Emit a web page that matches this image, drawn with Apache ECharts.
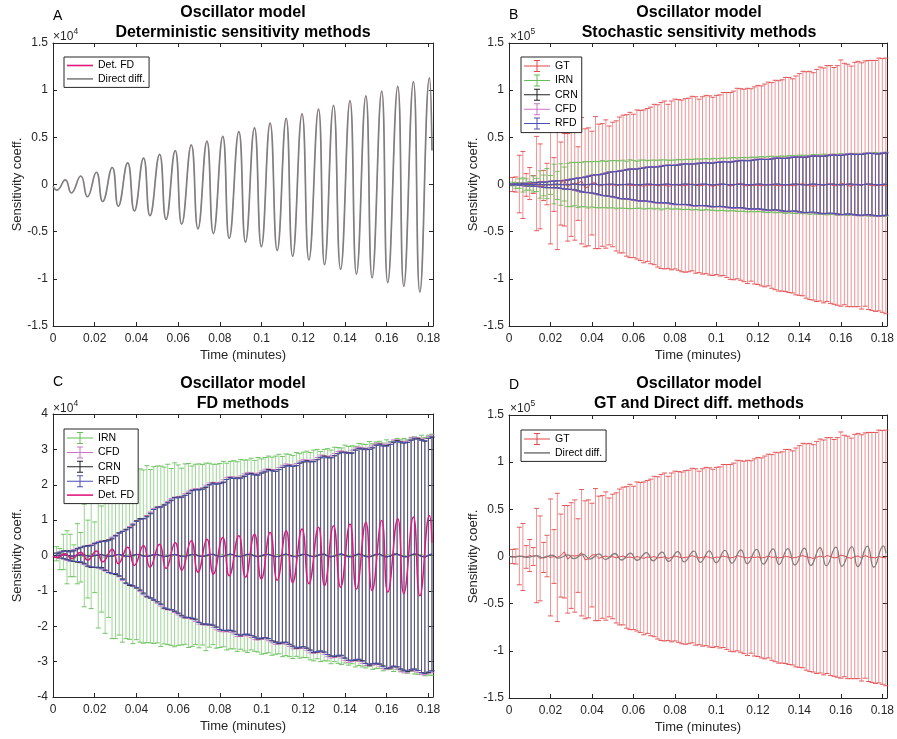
<!DOCTYPE html>
<html>
<head>
<meta charset="utf-8">
<script src="https://cdn.jsdelivr.net/npm/echarts@6.0.0/dist/echarts.min.js"></script>
<style>
html,body{margin:0;padding:0;background:#fff;}
#chart{width:897px;height:739px;}
</style>
</head>
<body>
<div id="chart"></div>
<script>
// All sensitivity values are in units of 10^4.
const TIME = [
0.0017,0.0033,0.0050,0.0067,0.0083,0.0100,0.0117,0.0133,0.0150,0.0167,
0.0183,0.0200,0.0217,0.0233,0.0250,0.0267,0.0283,0.0300,0.0317,0.0333,
0.0350,0.0367,0.0383,0.0400,0.0417,0.0433,0.0450,0.0467,0.0483,0.0500,
0.0517,0.0533,0.0550,0.0567,0.0583,0.0600,0.0617,0.0633,0.0650,0.0667,
0.0683,0.0700,0.0717,0.0733,0.0750,0.0767,0.0783,0.0800,0.0817,0.0833,
0.0850,0.0867,0.0883,0.0900,0.0917,0.0933,0.0950,0.0967,0.0983,0.1000,
0.1017,0.1033,0.1050,0.1067,0.1083,0.1100,0.1117,0.1133,0.1150,0.1167,
0.1183,0.1200,0.1217,0.1233,0.1250,0.1267,0.1283,0.1300,0.1317,0.1333,
0.1350,0.1367,0.1383,0.1400,0.1417,0.1433,0.1450,0.1467,0.1483,0.1500,
0.1517,0.1533,0.1550,0.1567,0.1583,0.1600,0.1617,0.1633,0.1650,0.1667,
0.1683,0.1700,0.1717,0.1733,0.1750,0.1767,0.1783,0.1800,0.1817];

const GT_MEAN = [
0.00,0.00,0.05,-0.05,-0.05,0.10,0.00,0.10,-0.20,-0.10,
0.05,-0.10,0.00,-0.10,0.10,0.50,-0.30,0.10,0.05,0.10,
0.40,-0.35,-0.25,0.15,0.20,-0.20,-0.05,0.05,-0.10,0.00,
-0.15,-0.05,0.05,-0.10,-0.05,-0.15,0.00,-0.10,-0.20,-0.05,
-0.10,0.00,-0.15,-0.10,-0.05,-0.20,-0.10,0.05,-0.05,-0.15,
-0.10,-0.05,0.10,-0.05,-0.15,-0.10,0.00,-0.10,-0.20,-0.05,
-0.10,0.05,-0.05,-0.15,-0.10,0.10,0.00,-0.10,-0.15,-0.05,
-0.10,-0.05,-0.15,-0.10,0.05,-0.10,-0.05,-0.15,-0.10,0.00,
-0.05,-0.15,-0.10,0.00,0.10,-0.05,-0.10,-0.20,-0.10,0.05,
-0.10,0.10,0.00,-0.15,-0.10,0.15,0.05,-0.10,-0.20,0.00,
0.05,-0.15,0.10,-0.05,-0.10,-0.15,0.00,-0.10,-0.15];
const GT_ERR = [
0.75,0.80,3.05,3.55,1.20,1.70,0.95,5.00,4.50,1.60,
2.20,6.20,2.85,6.80,4.40,4.90,5.70,5.60,5.95,3.90,
6.70,6.25,6.25,5.50,7.00,6.60,6.50,6.80,6.30,6.60,
6.90,7.20,7.30,7.50,7.70,7.60,7.90,7.95,8.10,8.10,
8.30,8.50,8.60,8.80,8.90,8.70,8.95,9.00,9.05,9.10,
9.20,9.20,9.25,9.35,9.20,9.40,9.45,9.50,9.45,9.50,
9.60,9.70,9.80,9.90,10.00,10.10,10.15,10.20,10.35,10.20,
10.45,10.55,10.60,10.75,10.80,10.90,11.10,11.15,11.20,11.35,
11.40,11.35,11.60,11.75,11.90,12.00,12.10,12.05,12.30,12.40,
12.45,12.50,12.60,12.55,12.70,13.05,12.80,12.85,12.75,12.95,
13.00,13.05,13.00,13.20,13.25,13.30,13.40,13.45,13.55];

const IRN_MEAN = [
0.05,-0.10,0.10,-0.05,0.00,-0.15,0.05,-0.05,0.00,-0.10,
0.10,-0.05,0.05,-0.10,0.00,0.05,-0.05,0.00,0.05,-0.05,
0.00,0.03,-0.04,0.02,0.00,-0.03,0.04,-0.02,0.01,0.03,
-0.02,0.00,0.03,-0.04,0.02,0.01,-0.03,0.04,0.00,-0.02,
0.03,-0.01,0.02,-0.04,0.01,0.03,-0.02,0.00,0.04,-0.03,
0.01,0.02,-0.03,0.03,0.00,-0.02,0.04,-0.01,0.02,-0.03,
0.00,0.03,-0.02,0.01,0.04,-0.03,0.02,0.00,-0.04,0.03,
-0.01,0.02,0.03,-0.02,0.00,0.04,-0.03,0.01,0.02,-0.04,
0.03,0.00,-0.02,0.04,-0.01,0.02,-0.03,0.03,0.00,-0.02,
0.04,-0.03,0.01,0.02,-0.04,0.03,0.00,-0.02,0.04,-0.01,
0.02,-0.03,0.03,0.00,-0.02,0.04,-0.03,0.01,0.02];
const IRN_ERR = [
0.20,0.30,0.50,0.75,0.60,0.45,0.85,0.70,1.45,1.10,
1.60,1.00,2.10,1.50,2.20,1.80,2.30,2.35,2.30,2.40,
2.35,2.40,2.45,2.40,2.45,2.45,2.50,2.45,2.50,2.50,
2.55,2.50,2.55,2.50,2.60,2.55,2.50,2.55,2.60,2.55,
2.55,2.60,2.55,2.65,2.60,2.55,2.60,2.60,2.62,2.64,
2.65,2.66,2.68,2.68,2.70,2.72,2.71,2.70,2.75,2.76,
2.77,2.78,2.80,2.80,2.82,2.83,2.85,2.86,2.87,2.88,
2.89,2.90,2.92,2.93,2.98,2.96,2.97,2.99,3.00,3.02,
3.03,3.05,3.06,3.08,3.09,3.08,3.12,3.14,3.15,3.16,
3.18,3.19,3.20,3.21,3.22,3.24,3.22,3.26,3.27,3.28,
3.29,3.30,3.31,3.35,3.34,3.36,3.37,3.39,3.41];

const CRN_MEAN = [
0.01,0.00,0.02,0.01,-0.01,-0.02,0.00,0.02,0.02,-0.01,
-0.03,0.00,0.01,0.03,0.00,-0.02,-0.02,0.01,0.03,0.01,
-0.02,-0.03,0.00,0.03,0.03,-0.01,-0.03,-0.01,0.02,0.03,
0.00,-0.03,-0.02,0.01,0.03,0.01,-0.02,-0.03,0.00,0.03,
0.03,-0.01,-0.03,-0.01,0.02,0.04,0.00,-0.03,-0.03,0.01,
0.04,0.02,-0.02,-0.04,0.00,0.03,0.03,-0.01,-0.04,-0.01,
0.02,0.04,0.00,-0.03,-0.03,0.01,0.04,0.02,-0.02,-0.04,
0.00,0.03,0.03,-0.01,-0.04,-0.01,0.03,0.04,-0.01,-0.04,
-0.02,0.02,0.05,0.01,-0.03,-0.04,0.01,0.04,0.02,-0.02,
-0.05,-0.01,0.03,0.04,-0.01,-0.04,-0.02,0.03,0.05,0.00,
-0.03,-0.04,0.01,0.04,0.03,-0.02,-0.05,0.00,0.04];
const CRN_ERR = [
0.06,0.07,0.11,0.12,0.14,0.15,0.19,0.21,0.24,0.29,
0.31,0.34,0.36,0.37,0.42,0.46,0.49,0.55,0.61,0.67,
0.76,0.82,0.86,0.95,1.01,1.05,1.14,1.19,1.28,1.34,
1.37,1.46,1.51,1.54,1.61,1.64,1.67,1.73,1.75,1.81,
1.83,1.88,1.91,1.93,1.98,2.01,2.02,2.07,2.09,2.14,
2.16,2.16,2.21,2.23,2.23,2.27,2.29,2.29,2.32,2.34,
2.34,2.39,2.41,2.41,2.46,2.48,2.49,2.53,2.54,2.58,
2.61,2.61,2.65,2.66,2.70,2.72,2.73,2.77,2.79,2.80,
2.84,2.86,2.87,2.91,2.93,2.93,2.97,2.99,2.99,3.03,
3.05,3.05,3.09,3.11,3.11,3.15,3.16,3.16,3.20,3.21,
3.21,3.24,3.25,3.25,3.28,3.29,3.28,3.31,3.30];

const CFD_MEAN = [
0.00,0.02,0.01,-0.01,-0.02,0.00,0.02,0.01,0.00,-0.02,
-0.01,0.01,0.03,0.01,-0.02,-0.02,0.00,0.03,0.02,-0.01,
-0.03,-0.01,0.02,0.03,0.01,-0.03,-0.02,0.01,0.03,0.01,
-0.02,-0.03,0.00,0.03,0.02,-0.01,-0.03,-0.01,0.02,0.03,
0.01,-0.03,-0.02,0.01,0.04,0.02,-0.02,-0.04,-0.01,0.03,
0.03,0.00,-0.04,-0.02,0.02,0.04,0.01,-0.03,-0.03,0.01,
0.04,0.02,-0.02,-0.04,-0.01,0.03,0.04,0.00,-0.04,-0.02,
0.02,0.04,0.01,-0.03,-0.03,0.01,0.05,0.02,-0.03,-0.04,
0.00,0.04,0.03,-0.02,-0.05,-0.01,0.03,0.04,0.00,-0.04,
-0.03,0.01,0.05,0.02,-0.03,-0.04,0.00,0.05,0.03,-0.02,
-0.05,-0.02,0.03,0.04,0.01,-0.04,-0.03,0.02,0.05];
const CFD_ERR = [
0.06,0.09,0.11,0.13,0.14,0.17,0.19,0.22,0.26,0.30,
0.32,0.35,0.37,0.40,0.42,0.47,0.52,0.55,0.62,0.70,
0.77,0.83,0.89,0.95,1.03,1.08,1.15,1.22,1.30,1.36,
1.41,1.48,1.53,1.58,1.63,1.67,1.71,1.76,1.80,1.84,
1.88,1.91,1.94,1.98,2.01,2.05,2.08,2.11,2.15,2.18,
2.20,2.22,2.25,2.27,2.29,2.31,2.33,2.35,2.36,2.38,
2.40,2.43,2.45,2.47,2.50,2.52,2.55,2.57,2.60,2.62,
2.65,2.67,2.69,2.72,2.74,2.76,2.79,2.81,2.83,2.86,
2.88,2.90,2.93,2.95,2.97,2.99,3.01,3.03,3.05,3.07,
3.09,3.11,3.13,3.15,3.17,3.19,3.20,3.22,3.24,3.25,
3.27,3.28,3.29,3.31,3.32,3.33,3.34,3.35,3.36];

const RFD_MEAN = [
0.00,0.01,0.02,0.00,-0.02,-0.01,0.01,0.02,0.01,-0.02,
-0.02,0.00,0.02,0.02,-0.01,-0.03,-0.01,0.02,0.03,0.00,
-0.03,-0.02,0.01,0.03,0.02,-0.02,-0.03,0.00,0.03,0.02,
-0.01,-0.03,-0.01,0.02,0.03,0.00,-0.03,-0.02,0.01,0.03,
0.02,-0.02,-0.03,0.00,0.03,0.03,-0.01,-0.03,-0.02,0.02,
0.04,0.01,-0.03,-0.03,0.01,0.04,0.02,-0.02,-0.04,0.00,
0.03,0.03,-0.01,-0.04,-0.02,0.02,0.04,0.01,-0.03,-0.03,
0.01,0.04,0.02,-0.02,-0.04,0.00,0.04,0.03,-0.02,-0.04,
-0.01,0.03,0.04,0.00,-0.04,-0.03,0.02,0.05,0.01,-0.03,
-0.04,0.00,0.04,0.03,-0.02,-0.05,-0.01,0.04,0.04,-0.01,
-0.04,-0.03,0.02,0.05,0.02,-0.03,-0.04,0.01,0.05];
const RFD_ERR = [
0.05,0.08,0.10,0.12,0.12,0.15,0.18,0.20,0.25,0.28,
0.30,0.33,0.35,0.38,0.40,0.45,0.50,0.53,0.60,0.68,
0.75,0.80,0.87,0.93,1.00,1.06,1.12,1.20,1.27,1.33,
1.38,1.45,1.50,1.55,1.60,1.63,1.68,1.72,1.76,1.80,
1.84,1.87,1.90,1.94,1.97,2.00,2.03,2.06,2.10,2.13,
2.15,2.17,2.20,2.22,2.24,2.26,2.28,2.30,2.31,2.33,
2.35,2.38,2.40,2.42,2.45,2.47,2.50,2.52,2.55,2.57,
2.60,2.62,2.64,2.67,2.69,2.71,2.74,2.76,2.78,2.81,
2.83,2.85,2.88,2.90,2.92,2.94,2.96,2.98,3.00,3.02,
3.04,3.06,3.08,3.10,3.12,3.14,3.15,3.17,3.19,3.20,
3.22,3.23,3.24,3.26,3.27,3.28,3.29,3.30,3.31];

// Deterministic curves: turning points of the oscillation (time, value)
const OSC_TIME = [
0,0.0019,0.0059,0.0088,0.0133,0.0165,0.0208,0.0238,0.0284,0.0313,
0.0358,0.0390,0.0434,0.0465,0.0511,0.0542,0.0586,0.0617,0.0663,0.0695,
0.0738,0.0769,0.0814,0.0845,0.0891,0.0923,0.0966,0.0999,0.1041,0.1075,
0.1118,0.1149,0.1194,0.1227,0.1273,0.1302,0.1345,0.1379,0.1424,0.1455,
0.1500,0.1530,0.1576,0.1605,0.1653,0.1682,0.1728,0.1759,0.1805,0.1817];
const DIRECT_DIFF = [
-0.02,-0.06,0.05,-0.09,0.09,-0.13,0.13,-0.18,0.18,-0.23,
0.23,-0.28,0.28,-0.33,0.32,-0.37,0.36,-0.42,0.42,-0.47,
0.46,-0.52,0.51,-0.57,0.56,-0.61,0.60,-0.66,0.65,-0.70,
0.70,-0.76,0.75,-0.80,0.80,-0.85,0.84,-0.90,0.89,-0.95,
0.94,-0.99,0.99,-1.04,1.04,-1.08,1.09,-1.14,1.13,0.36];
const DET_FD = [
-0.02,-0.06,0.05,-0.09,0.09,-0.13,0.13,-0.18,0.18,-0.23,
0.23,-0.28,0.28,-0.33,0.32,-0.37,0.36,-0.42,0.42,-0.47,
0.46,-0.52,0.51,-0.57,0.56,-0.61,0.60,-0.66,0.65,-0.70,
0.70,-0.76,0.75,-0.80,0.80,-0.85,0.84,-0.90,0.89,-0.95,
0.94,-0.99,0.99,-1.04,1.04,-1.08,1.09,-1.14,1.13,0.36];

const X_TICKS_STEP = 0.02;
const TITLES = [
  'Oscillator model\nDeterministic sensitivity methods',
  'Oscillator model\nStochastic sensitivity methods',
  'Oscillator model\nFD methods',
  'Oscillator model\nGT and Direct diff. methods'];
const PANEL_LETTERS = ['A','B','C','D'];
const EXPONENTS = ['4','5','4','5'];

// ---------------- styling ----------------
const FONT = '"Liberation Sans", Arial, Helvetica, sans-serif';
const AX = '#262626';
const C = {
  GT: '#E2474B', IRN: '#62BE55', CRN: '#222222', CFD: '#CD72CA', RFD: '#4A50B5',
  DETFD: '#E0197F', DIRECT: '#7F7F7F'
};
const XMAX = 0.1822;
const CAP = 2.5;
const ERR_ICON = 'path://M0,5.5H26V6.5H0Z M12.5,0H13.5V12H12.5Z M10,0H16V1H10Z M10,11H16V12H10Z';
const LINE_ICON = 'path://M0,0H26V1.6H0Z';

const grids = [
  {left:53, top:43, width:380, height:283},
  {left:509, top:43, width:380, height:283},
  {left:53, top:414, width:380, height:283},
  {left:509, top:415, width:380, height:283}
];
const yCfg = [
  {min:-1.5, max:1.5, interval:0.5, fmt: v => String(Math.round(v*10)/10)},
  {min:-15, max:15, interval:5, fmt: v => String(Math.round(v)/10)},
  {min:-4, max:4, interval:1, fmt: v => String(Math.round(v))},
  {min:-15, max:15, interval:5, fmt: v => String(Math.round(v)/10)}
];

function xFmt(v){
  const r = Math.round(v*100)/100;
  return Math.abs(v - r) < 1e-6 ? String(r) : '';
}

const xAxes = [], yAxes = [];
grids.forEach((g, i) => {
  const common = {type:'value', gridIndex:i, min:0, max:XMAX, interval:X_TICKS_STEP,
    axisLine:{show:true, onZero:false, lineStyle:{color:AX, width:1}},
    axisTick:{show:true, inside:true, length:4, lineStyle:{color:AX}},
    splitLine:{show:false}};
  xAxes.push(Object.assign({}, common, {position:'bottom',
    axisLabel:{show:true, margin:7, fontSize:12, color:AX, fontFamily:FONT, formatter:xFmt},
    name:'Time (minutes)', nameLocation:'middle', nameGap:23,
    nameTextStyle:{fontSize:13, color:AX, fontFamily:FONT}}));
  xAxes.push(Object.assign({}, common, {position:'top', axisLabel:{show:false}}));
  const y = yCfg[i];
  const ycommon = {type:'value', gridIndex:i, min:y.min, max:y.max, interval:y.interval,
    axisLine:{show:true, onZero:false, lineStyle:{color:AX, width:1}},
    axisTick:{show:true, inside:true, length:4, lineStyle:{color:AX}},
    splitLine:{show:false}};
  yAxes.push(Object.assign({}, ycommon, {position:'left',
    axisLabel:{show:true, margin:5, fontSize:12, color:AX, fontFamily:FONT, formatter:y.fmt},
    name:'Sensitivity coeff.', nameLocation:'middle', nameGap:29, nameRotate:90,
    nameTextStyle:{fontSize:13, color:AX, fontFamily:FONT}}));
  yAxes.push(Object.assign({}, ycommon, {position:'right', axisLabel:{show:false}}));
});

function makeRenderErr(barOpacity){
  return function(params, api){
    const t = api.value(0), m = api.value(1), e = api.value(2);
    const p1 = api.coord([t, m + e]);
    const p2 = api.coord([t, m - e]);
    const c = api.visual('color');
    const bar = {stroke:c, lineWidth:0.8, fill:null, opacity:barOpacity};
    const cap = () => ({stroke:c, lineWidth:0.9, fill:null});
    return {type:'group', children:[
      {type:'line', shape:{x1:p1[0], y1:p1[1], x2:p2[0], y2:p2[1]}, style:bar},
      {type:'line', shape:{x1:p1[0]-CAP, y1:p1[1], x2:p1[0]+CAP, y2:p1[1]}, style:cap()},
      {type:'line', shape:{x1:p2[0]-CAP, y1:p2[1], x2:p2[0]+CAP, y2:p2[1]}, style:cap()}
    ]};
  };
}

function errSeries(name, color, panel, mean, err, barOpacity){
  const ai = panel * 2;
  return [
    {type:'custom', name, xAxisIndex:ai, yAxisIndex:ai, silent:true, animation:false,
     itemStyle:{color}, encode:{x:0, y:1},
     data: TIME.map((t, i) => [t, mean[i], err[i]]), renderItem: makeRenderErr(barOpacity)},
    {type:'line', name, xAxisIndex:ai, yAxisIndex:ai, silent:true, animation:false,
     symbol:'none', showSymbol:false, itemStyle:{color}, lineStyle:{color, width:1},
     data: TIME.map((t, i) => [t, mean[i]])}
  ];
}
function oscSeries(name, color, panel, vals, width, zlevel){
  const ai = panel * 2;
  return {type:'line', name, xAxisIndex:ai, yAxisIndex:ai, silent:true, animation:false,
    symbol:'none', showSymbol:false, smooth:0.5, itemStyle:{color}, zlevel:zlevel || 0,
    lineStyle:{color, width}, data: OSC_TIME.map((t, i) => [t, vals[i]])};
}

const series = [].concat(
  // A: Det. FD lies exactly under Direct diff. (hidden by it, as in the figure)
  oscSeries('Det. FD', C.DETFD, 0, DET_FD, 0.25, 0),
  oscSeries('Direct diff.', C.DIRECT, 0, DIRECT_DIFF, 1.7, 1),
  // B
  errSeries('GT', C.GT, 1, GT_MEAN, GT_ERR, 0.75),
  errSeries('IRN', C.IRN, 1, IRN_MEAN, IRN_ERR, 0.8),
  errSeries('CRN', C.CRN, 1, CRN_MEAN, CRN_ERR, 0.7),
  errSeries('CFD', C.CFD, 1, CFD_MEAN, CFD_ERR, 0.7),
  errSeries('RFD', C.RFD, 1, RFD_MEAN, RFD_ERR, 0.6),
  // C
  errSeries('IRN', C.IRN, 2, IRN_MEAN, IRN_ERR, 0.8),
  errSeries('CFD', C.CFD, 2, CFD_MEAN, CFD_ERR, 0.7),
  errSeries('CRN', C.CRN, 2, CRN_MEAN, CRN_ERR, 0.7),
  errSeries('RFD', C.RFD, 2, RFD_MEAN, RFD_ERR, 0.6),
  oscSeries('Det. FD', C.DETFD, 2, DET_FD, 1.5, 0),
  // D
  errSeries('GT', C.GT, 3, GT_MEAN, GT_ERR, 0.75),
  oscSeries('Direct diff.', C.DIRECT, 3, DIRECT_DIFF, 1.3, 0)
);

function mkLegend(left, top, items){
  return {left, top, orient:'vertical', itemWidth:26, itemHeight:12, itemGap:2.4,
    padding:[3,4,3,3], borderColor:AX, borderWidth:1, backgroundColor:'#fff',
    selectedMode:false, symbolKeepAspect:true, zlevel:2,
    itemStyle:{borderWidth:0},
    textStyle:{fontSize:10.5, color:'#000', fontFamily:FONT},
    data: items.map(([name, icon]) => ({name, icon}))};
}
const legends = [
  mkLegend(64, 57, [['Det. FD', LINE_ICON], ['Direct diff.', LINE_ICON]]),
  mkLegend(521, 57, [['GT', ERR_ICON], ['IRN', ERR_ICON], ['CRN', ERR_ICON], ['CFD', ERR_ICON], ['RFD', ERR_ICON]]),
  mkLegend(64, 429, [['IRN', ERR_ICON], ['CFD', ERR_ICON], ['CRN', ERR_ICON], ['RFD', ERR_ICON], ['Det. FD', LINE_ICON]]),
  mkLegend(521, 430, [['GT', ERR_ICON], ['Direct diff.', LINE_ICON]])
];

const titlePos = [[243, 3], [699, 3], [243, 374], [699, 374]];
const titles = TITLES.map((t, i) => ({
  text: t, left: titlePos[i][0], top: titlePos[i][1], textAlign:'center', padding:0,
  textStyle:{fontSize:16, fontWeight:'bold', lineHeight:20, color:'#000', fontFamily:FONT}
}));

const letterPos = [[53, 9], [509, 8.5], [53, 375], [509, 378]];
const expPos = [[53, 31], [510, 31], [53, 402.5], [510, 402.5]];
const graphics = [];
PANEL_LETTERS.forEach((L, i) => {
  graphics.push({type:'text', left:letterPos[i][0], top:letterPos[i][1],
    style:{text:L, fontSize:14, fill:'#000', fontFamily:FONT}});
  graphics.push({type:'text', left:expPos[i][0], top:expPos[i][1],
    style:{text:'\u00d710', fontSize:12, fill:AX, fontFamily:FONT}});
  graphics.push({type:'text', left:expPos[i][0] + 20.5, top:expPos[i][1] - 3.5,
    style:{text:EXPONENTS[i], fontSize:8.5, fill:AX, fontFamily:FONT}});
});

const chart = echarts.init(document.getElementById('chart'), null, {renderer:'canvas'});
chart.setOption({
  animation:false,
  backgroundColor:'#fff',
  title: titles,
  grid: grids.map(g => Object.assign({containLabel:false}, g)),
  xAxis: xAxes,
  yAxis: yAxes,
  legend: legends,
  graphic: graphics,
  series: series
});
</script>
</body>
</html>
